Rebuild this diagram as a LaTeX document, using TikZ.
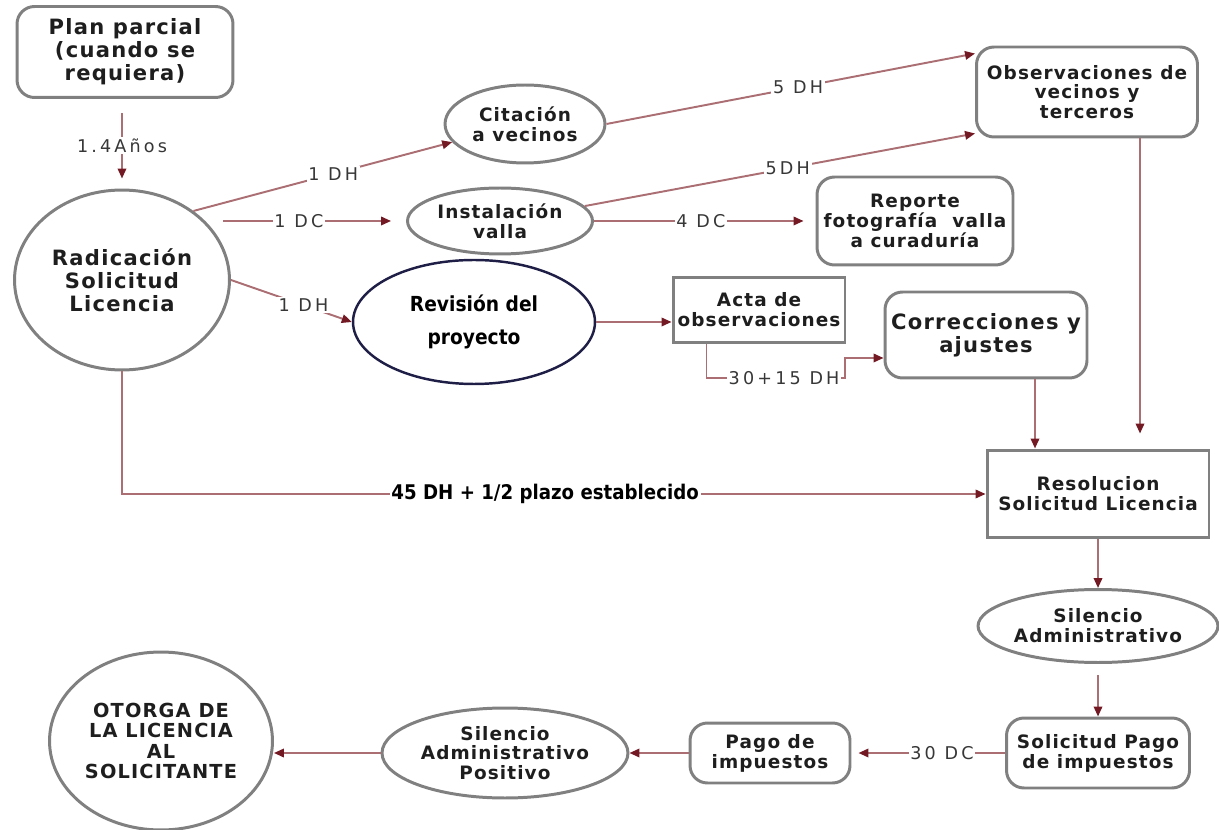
\documentclass[tikz,border=0pt]{standalone}
\usepackage{fontspec}
\setmainfont{DejaVu Sans}
\newfontfamily\boxfont[LetterSpace=6]{DejaVu Sans}
\newfontfamily\tagfont[LetterSpace=18]{DejaVu Sans}
\newfontfamily\narrowfont[FakeStretch=0.9]{DejaVu Sans}
\usetikzlibrary{shapes.geometric, arrows.meta}

\definecolor{boxgray}{RGB}{128,128,128}
\definecolor{revnavy}{RGB}{30,30,70}
\definecolor{linerose}{RGB}{170,110,115}
\definecolor{tipred}{RGB}{115,25,35}
\definecolor{boxtext}{RGB}{30,30,30}
\definecolor{tagtext}{RGB}{55,55,55}

\begin{document}
\begin{tikzpicture}[x=0.02cm, y=-0.02cm,
    every node/.style={align=center, text=boxtext, font=\boxfont\bfseries\fontsize{10.5}{11.3}\selectfont},
    rbox/.style={rectangle, draw=boxgray, line width=1.7pt, rounded corners=0.35cm, inner sep=1pt},
    sbox/.style={rectangle, draw=boxgray, line width=1.7pt, inner sep=1pt},
    oval/.style={ellipse, draw=boxgray, line width=1.7pt, inner sep=0pt},
    big/.style={font=\boxfont\bfseries\fontsize{12}{13}\selectfont},
    tag/.style={font=\tagfont\fontsize{10}{12}\selectfont, text=tagtext, fill=white, inner sep=1pt},
    conn/.style={draw=linerose, line width=1.1pt, -{Triangle[length=0.2cm, width=0.17cm, color=tipred]}}
]
    \useasboundingbox (0,0) rectangle (1219,830);

    % nodos
    \node[rbox, big, minimum width=4.32cm, minimum height=1.82cm] (plan) at (125,52) {Plan parcial\\(cuando se\\requiera)};
    \node[oval, big, minimum width=4.3cm, minimum height=3.6cm] (rad) at (122,280) {Radicación\\Solicitud\\Licencia};
    \node[oval, minimum width=3.2cm, minimum height=1.56cm] (cit) at (525,124) {Citación\\a vecinos};
    \node[oval, minimum width=3.7cm, minimum height=1.32cm] (inst) at (500,221) {Instalación\\valla};
    \node[oval, draw=revnavy, line width=1.4pt, text=black, font=\narrowfont\bfseries\fontsize{11.8}{18.7}\selectfont,
          minimum width=4.84cm, minimum height=2.48cm] (rev) at (474,322) {Revisión del\\proyecto};
    \node[sbox, minimum width=3.44cm, minimum height=1.3cm] (acta) at (759,310) {Acta de\\observaciones};
    \node[rbox, minimum width=4.42cm, minimum height=1.8cm] (obs) at (1087,92) {Observaciones de\\vecinos y\\terceros};
    \node[rbox, minimum width=3.92cm, minimum height=1.76cm] (rep) at (915,221) {Reporte\\fotografía\ \ valla\\a curaduría};
    \node[rbox, big, minimum width=4.04cm, minimum height=1.72cm] (corr) at (986,335) {Correcciones y\\ajustes};
    \node[sbox, minimum width=4.44cm, minimum height=1.76cm] (res) at (1098,494) {Resolucion\\Solicitud Licencia};
    \node[oval, minimum width=4.8cm, minimum height=1.46cm] (sil) at (1098,626) {Silencio\\Administrativo};
    \node[rbox, minimum width=3.66cm, minimum height=1.4cm] (sol) at (1098,753) {Solicitud Pago\\de impuestos};
    \node[rbox, minimum width=3.2cm, minimum height=1.2cm] (pago) at (770,753) {Pago de\\impuestos};
    \node[oval, minimum width=4.92cm, minimum height=1.8cm] (silpos) at (505,753) {Silencio\\Administrativo\\Positivo};
    \node[oval, font=\boxfont\bfseries\fontsize{11}{11.5}\selectfont, minimum width=4.46cm, minimum height=3.56cm]
          (otorga) at (161,741) {OTORGA DE\\LA LICENCIA\\AL\\SOLICITANTE};
    \coordinate (bend) at (845,378);

    % conectores
    \draw[conn] ([yshift=-0.28cm]plan.south -| rad.north) -- node[tag]{1.4Años} ([yshift=0.2cm]rad.north);
    \draw[conn] (rad.44) -- node[tag, pos=0.54]{1 DH} (cit.194);
    \draw[conn] ([xshift=-0.15cm]rad.east |- inst.west) -- node[tag, pos=0.45]{1 DC} ([xshift=-0.3cm]inst.west);
    \draw[conn] (rad.east) -- node[tag, pos=0.6]{1 DH} (rev.west);
    \draw[conn] (cit.east) -- node[tag, pos=0.52]{5 DH} ([yshift=-0.16cm]obs.north west);
    \draw[conn] (inst.10) -- node[tag, pos=0.52]{5DH} ([yshift=0.1cm]obs.south west);
    \draw[conn] (inst.east) -- node[tag, pos=0.51]{4 DC} ([xshift=-0.24cm]rep.west);
    \draw[conn] (rev.east) -- (rev.east -| acta.west);
    \draw[conn] ([xshift=0.7cm]acta.south west) |- node[tag, pos=0.78]{30+15 DH} (bend) |- ([yshift=-0.46cm]corr.west);
    \draw[conn] ([xshift=0.98cm]corr.south) -- ([xshift=0.98cm]corr.south |- res.north);
    \draw[conn] ([xshift=1.06cm]obs.south) -- ([xshift=1.06cm,yshift=0.3cm]obs.south |- res.north);
    \draw[conn] (rad.south) |- node[tag, pos=0.745, text=black, font=\narrowfont\bfseries\fontsize{11.5}{12}\selectfont]{45 DH + 1/2 plazo establecido} (res.west);
    \draw[conn] (res.south) -- (sil.north);
    \draw[conn] ([yshift=-0.22cm]sil.south) -- (sol.north);
    \draw[conn] (sol.west) -- node[tag, pos=0.43]{30 DC} ([xshift=0.14cm]pago.east);
    \draw[conn] (pago.west) -- (silpos.east);
    \draw[conn] (silpos.west) -- (silpos.west -| otorga.east);
\end{tikzpicture}
\end{document}
